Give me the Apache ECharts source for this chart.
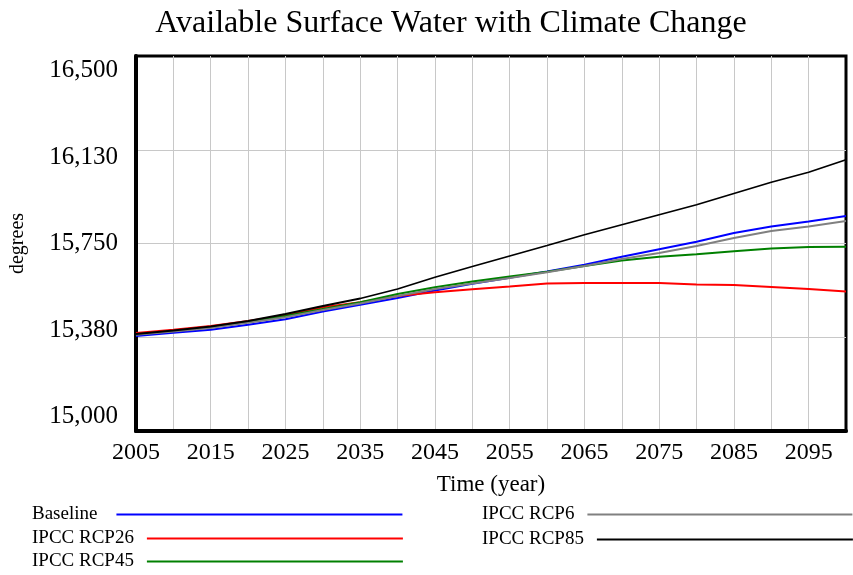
<!DOCTYPE html>
<html>
<head>
<meta charset="utf-8">
<script src="https://cdn.jsdelivr.net/npm/echarts@6/dist/echarts.min.js"></script>
<style>
  html, body { margin: 0; padding: 0; background: #ffffff; }
  #chart { width: 853px; height: 575px; }
</style>
</head>
<body>
<div id="chart"></div>
<script>
// Years sampled every five years, 2005-2100
const years = [2005, 2010, 2015, 2020, 2025, 2030, 2035, 2040, 2045, 2050,
               2055, 2060, 2065, 2070, 2075, 2080, 2085, 2090, 2095, 2100];

const baseline = [15380, 15393, 15405, 15425, 15447, 15478, 15505, 15532, 15562, 15589,
                  15613, 15638, 15665, 15697, 15727, 15757, 15792, 15818, 15838, 15860];
const rcp26    = [15392, 15405, 15420, 15440, 15462, 15495, 15515, 15540, 15555, 15567,
                  15578, 15590, 15592, 15592, 15592, 15586, 15584, 15576, 15568, 15558];
const rcp45    = [15386, 15400, 15415, 15437, 15460, 15488, 15515, 15548, 15575, 15598,
                  15618, 15637, 15660, 15682, 15697, 15707, 15719, 15730, 15736, 15737];
const rcp6     = [15385, 15398, 15412, 15433, 15455, 15484, 15510, 15540, 15568, 15590,
                  15612, 15635, 15660, 15688, 15712, 15740, 15772, 15800, 15818, 15840];
const rcp85    = [15388, 15402, 15418, 15440, 15468, 15500, 15530, 15568, 15615, 15658,
                  15700, 15742, 15785, 15825, 15865, 15905, 15950, 15995, 16035, 16085];

// Value-axis tick values and the labels printed beside them
const yTicks = [15000, 15375, 15750, 16125, 16500];
const yTickLabels = ['15,000', '15,380', '15,750', '16,130', '16,500'];

const seriesNames = ['Baseline', 'IPCC RCP26', 'IPCC RCP45', 'IPCC RCP6', 'IPCC RCP85'];
const seriesColors = ['#0000ff', '#ff0000', '#008000', '#808080', '#000000'];
const seriesValues = [baseline, rcp26, rcp45, rcp6, rcp85];

const FONT = '"Liberation Serif", "Times New Roman", serif';

const chart = echarts.init(document.getElementById('chart'), null, { renderer: 'canvas' });

// One legend block per series: label text followed by a long sample line
function legendBox(name, left, top, gapRight, lineWidth) {
  return {
    data: [name],
    left: left,
    top: top,
    align: 'right',
    orient: 'horizontal',
    padding: 0,
    icon: 'rect',
    itemWidth: lineWidth,
    itemHeight: 2,
    selectedMode: false,
    textStyle: { fontFamily: FONT, fontSize: 19, color: '#000', padding: [0, gapRight, 0, 0] }
  };
}

const gridLine = { show: true, showMinLine: false, showMaxLine: false,
                   lineStyle: { color: '#c8c8c8', width: 1 } };

const option = {
  backgroundColor: '#ffffff',
  animation: false,
  title: {
    text: 'Available Surface Water with Climate Change',
    left: 446,
    top: 3,
    textAlign: 'center',
    textStyle: { fontFamily: FONT, fontSize: 32, fontWeight: 'normal', color: '#000' }
  },
  legend: [
    legendBox('Baseline', 32, 505, 14, 286),
    legendBox('IPCC RCP26', 32, 529, 8, 256),
    legendBox('IPCC RCP45', 32, 552, 8, 256),
    legendBox('IPCC RCP6', 482, 505, 8, 265),
    legendBox('IPCC RCP85', 482, 530, 8, 256)
  ],
  grid: {
    left: 135, right: 7, top: 56, bottom: 144,
    show: true, borderColor: '#000', borderWidth: 3, backgroundColor: 'transparent'
  },
  xAxis: {
    type: 'value',
    min: 2005, max: 2100, interval: 5,
    name: 'Time (year)',
    nameLocation: 'middle',
    nameGap: 42,
    nameTextStyle: { fontFamily: FONT, fontSize: 23, color: '#000' },
    axisLine: { show: true, onZero: false, lineStyle: { color: '#000', width: 4 } },
    axisTick: { show: false },
    splitLine: gridLine,
    axisLabel: {
      fontFamily: FONT, fontSize: 24, color: '#000', margin: 10,
      showMaxLabel: false,
      formatter: function (v) { return ((v - 2005) % 10 === 0 && v < 2100) ? String(v) : ''; }
    }
  },
  yAxis: [
    {
      type: 'value',
      min: 15000, max: 16500, interval: 375,
      axisLine: { show: true, onZero: false, lineStyle: { color: '#000', width: 4 } },
      axisTick: { show: false },
      axisLabel: { show: false },
      splitLine: gridLine
    },
    {
      // label-only axis: the printed tick values sit slightly inside the frame ends
      type: 'value',
      position: 'left',
      min: 14937.5, max: 16562.5,
      name: 'degrees',
      nameLocation: 'middle',
      nameRotate: 90,
      nameGap: 108,
      nameTextStyle: { fontFamily: FONT, fontSize: 20, color: '#000' },
      axisLine: { show: false },
      axisTick: { show: false },
      splitLine: { show: false },
      axisLabel: {
        fontFamily: FONT, fontSize: 25, color: '#000', margin: 18,
        customValues: yTicks,
        formatter: function (v) {
          const i = yTicks.indexOf(v);
          return i >= 0 ? yTickLabels[i] : '';
        }
      }
    }
  ],
  series: seriesNames.map(function (name, i) {
    return {
      name: name,
      type: 'line',
      yAxisIndex: 0,
      symbol: 'none',
      color: seriesColors[i],
      lineStyle: { color: seriesColors[i], width: 1.8 },
      data: years.map(function (yr, k) { return [yr, seriesValues[i][k]]; })
    };
  })
};

chart.setOption(option);
</script>
</body>
</html>
